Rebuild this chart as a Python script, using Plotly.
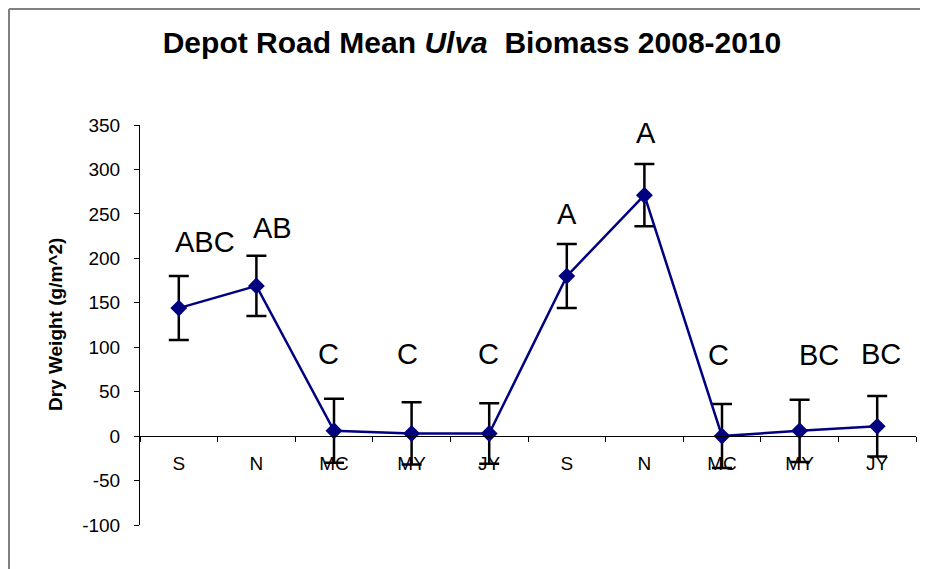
import plotly.graph_objects as go

# Depot Road Ulva biomass, mean dry weight per sampling (2008-2010)
months = ['S', 'N', 'MC', 'MY', 'JY', 'S', 'N', 'MC', 'MY', 'JY']
mean_dw = [144, 169, 6, 3, 3, 180, 271, 0, 6, 11]
se_dw = [36, 34, 36, 35, 34, 36, 35, 36, 35, 34]
letters = ['ABC', 'AB', 'C', 'C', 'C', 'A', 'A', 'C', 'BC', 'BC']
y_ticks = [-100, -50, 0, 50, 100, 150, 200, 250, 300, 350]

# pixel nudges for the significance letters (placement only)
label_dx = [26, 16, -6, -4, -1, 0, 2, -4, 19, 4]
label_dy = [34, 28, 45, 48, 49, 30, 31, 49, 45, 42]

FONT = 'Liberation Sans, Arial, sans-serif'
NAVY = '#000080'

# the page body adds an 8px offset, so the figure is sized to fill the rest
W, H = 920, 561
PL, PT, PW, PH = 132, 117, 776, 400

x_idx = list(range(len(months)))

fig = go.Figure()
fig.add_trace(go.Scatter(
    x=x_idx,
    y=mean_dw,
    mode='lines+markers',
    line=dict(color=NAVY, width=2.5),
    marker=dict(symbol='diamond', size=13, color=NAVY),
    error_y=dict(type='data', array=se_dw, visible=True,
                 color='black', thickness=2.5, width=10),
    showlegend=False,
))

# significance letters above each point
for i, txt in enumerate(letters):
    fig.add_annotation(
        x=x_idx[i], y=mean_dw[i] + se_dw[i], xref='x', yref='y',
        text=txt, showarrow=False, xanchor='center', yanchor='middle',
        xshift=label_dx[i], yshift=label_dy[i],
        font=dict(family=FONT, size=29, color='black'),
    )

ymin, ymax = -100, 350

fig.update_layout(
    width=W, height=H,
    margin=dict(l=PL, r=W - PL - PW, t=PT, b=H - PT - PH, autoexpand=False),
    paper_bgcolor='white', plot_bgcolor='white',
    font=dict(family=FONT, color='black'),
    title=dict(
        text='<b>Depot Road Mean <i>Ulva</i>&nbsp; Biomass 2008-2010</b>',
        x=464 / W, xanchor='center', y=1 - 34 / H, yanchor='middle',
        font=dict(family=FONT, size=30, color='black'),
    ),
    xaxis=dict(
        range=[-0.5, 9.5],
        tickmode='array', tickvals=x_idx, ticktext=months,
        ticks='', showgrid=False, zeroline=False,
        showline=True, linecolor='black', linewidth=1,
        anchor='free', position=(0 - ymin) / (ymax - ymin),
        ticklabelstandoff=10,
        tickfont=dict(family=FONT, size=19, color='black'),
        minor=dict(tickmode='array',
                   tickvals=[i - 0.5 for i in range(len(months) + 1)],
                   ticks='outside', ticklen=5, tickcolor='black', tickwidth=1),
    ),
    yaxis=dict(
        range=[ymin, ymax],
        tickmode='array', tickvals=y_ticks, ticktext=[str(v) for v in y_ticks],
        ticks='outside', ticklen=5, tickcolor='black',
        showgrid=False, zeroline=False,
        showline=True, linecolor='black', linewidth=1,
        ticklabelstandoff=10,
        tickfont=dict(family=FONT, size=19, color='black'),
    ),
)

# y-axis title
fig.add_annotation(
    x=(55 - 140) / PW, y=0.5, xref='paper', yref='paper',
    text='<b>Dry Weight (g/m^2)</b>', textangle=-90, showarrow=False,
    xanchor='center', yanchor='middle',
    font=dict(family=FONT, size=19, color='black'),
)

# chart frame (grey border along the left/top edge of the figure)
frame = dict(color='#808080', width=2)
fx = (1 - PL) / PW          # 1px in from the figure's left edge
fy = (PT + PH - 1) / PH     # 1px down from the figure's top edge
fig.add_shape(type='line', xref='paper', yref='paper',
              x0=fx, x1=fx, y0=-0.2, y1=fy, line=frame)
fig.add_shape(type='line', xref='paper', yref='paper',
              x0=fx, x1=(W - PL) / PW, y0=fy, y1=fy, line=frame)

fig.write_html('out.html')
